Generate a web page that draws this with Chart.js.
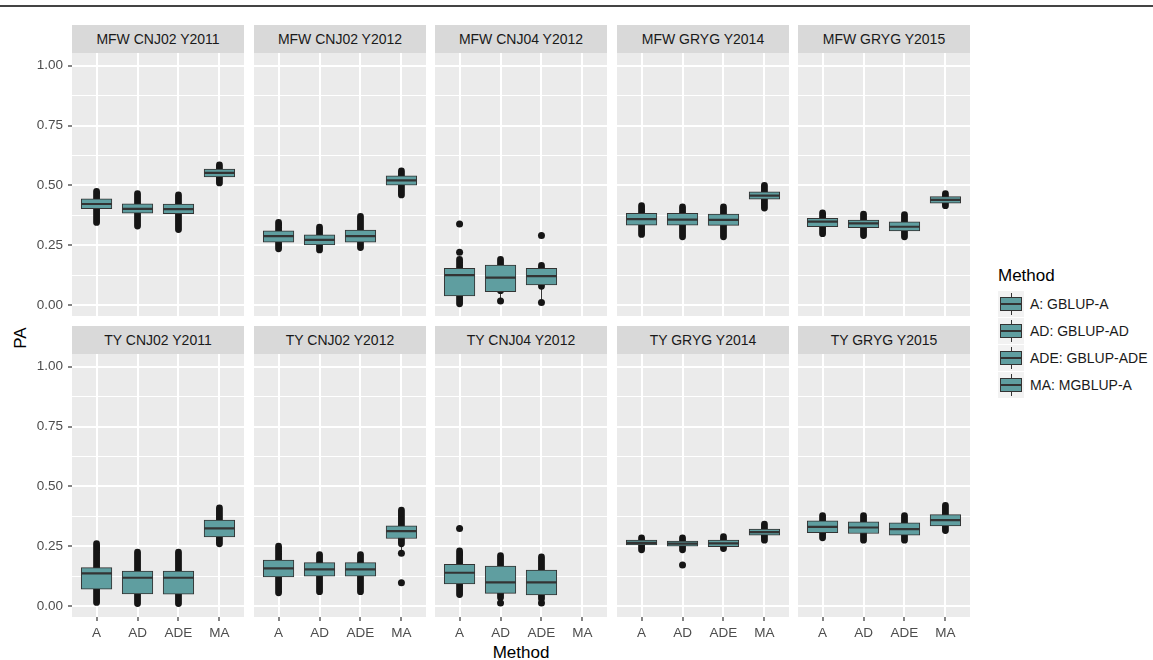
<!DOCTYPE html>
<html>
<head>
<meta charset="utf-8">
<script src="https://cdn.jsdelivr.net/npm/chart.js@4.4.0/dist/chart.umd.min.js"></script>
<style>
  body { margin: 0; width: 1153px; height: 660px; position: relative; overflow: hidden; background: #fff;
         font-family: "Liberation Sans", Arial, sans-serif; }
  .topline { position: absolute; left: 0; top: 5px; width: 1153px; height: 2px; background: #444; }
  .strip { position: absolute; height: 28px; line-height: 28px; background: #D9D9D9; color: #1A1A1A;
           font-size: 14px; text-align: center; white-space: nowrap; }
  canvas { position: absolute; }
  .title { position: absolute; font-size: 17px; color: #000; white-space: nowrap; }
  .legend-title { position: absolute; left: 998px; top: 266px; font-size: 17px; color: #000; }
  .key { position: absolute; left: 998px; width: 26px; height: 26px; background: #F2F2F2; }
  .key .wh { position: absolute; left: 12.5px; top: 2px; width: 1px; height: 22px; background: #333; }
  .key .bx { position: absolute; left: 2px; top: 6px; width: 20px; height: 12px; background: #5F9EA0; border: 1px solid #333; }
  .key .md { position: absolute; left: 2px; top: 12px; width: 22px; height: 2px; background: #333; }
  .key-label { position: absolute; left: 1030px; font-size: 14px; color: #1A1A1A; white-space: nowrap; }
</style>
</head>
<body>
<div class="topline"></div>
<div class="title" id="ytitle" style="left:21px;top:338px;transform:translate(-50%,-50%) rotate(-90deg);">PA</div>
<div class="title" style="left:521px;top:653px;transform:translate(-50%,-50%);">Method</div>
<div class="legend-title">Method</div>
<script>
const methods = ['A', 'AD', 'ADE', 'MA'];
const panelNames = ['MFW CNJ02 Y2011', 'MFW CNJ02 Y2012', 'MFW CNJ04 Y2012', 'MFW GRYG Y2014', 'MFW GRYG Y2015',
                    'TY CNJ02 Y2011', 'TY CNJ02 Y2012', 'TY CNJ04 Y2012', 'TY GRYG Y2014', 'TY GRYG Y2015'];
const legendLabels = ['A: GBLUP-A', 'AD: GBLUP-AD', 'ADE: GBLUP-ADE', 'MA: MGBLUP-A'];
const yTicks = [0, 0.25, 0.5, 0.75, 1];
const yMinor = [0.125, 0.375, 0.625, 0.875];

// lower hinge, median, upper hinge per panel, in method order A, AD, ADE, MA
const q1 = [
  [0.402, 0.384, 0.382, 0.535],
  [0.262, 0.251, 0.262, 0.501],
  [0.038, 0.056, 0.084, null],
  [0.334, 0.334, 0.333, 0.442],
  [0.327, 0.323, 0.310, 0.425],
  [0.070, 0.050, 0.049, 0.289],
  [0.122, 0.125, 0.125, 0.282],
  [0.092, 0.053, 0.046, null],
  [0.255, 0.250, 0.248, 0.296],
  [0.306, 0.303, 0.296, 0.335]
];
const med = [
  [0.422, 0.402, 0.401, 0.552],
  [0.288, 0.272, 0.288, 0.521],
  [0.125, 0.114, 0.121, null],
  [0.359, 0.357, 0.356, 0.457],
  [0.348, 0.341, 0.327, 0.439],
  [0.136, 0.118, 0.118, 0.324],
  [0.157, 0.153, 0.153, 0.313],
  [0.139, 0.099, 0.099, null],
  [0.264, 0.261, 0.262, 0.309],
  [0.331, 0.328, 0.321, 0.359]
];
const q3 = [
  [0.444, 0.423, 0.422, 0.568],
  [0.310, 0.293, 0.313, 0.540],
  [0.153, 0.167, 0.153, null],
  [0.383, 0.383, 0.380, 0.473],
  [0.362, 0.355, 0.348, 0.453],
  [0.160, 0.146, 0.146, 0.359],
  [0.192, 0.181, 0.181, 0.335],
  [0.174, 0.167, 0.150, null],
  [0.275, 0.271, 0.275, 0.321],
  [0.356, 0.352, 0.348, 0.382]
];
// lowest / highest of the packed replicate points around each box
const ptLo = [
  [0.345, 0.330, 0.315, 0.510],
  [0.235, 0.230, 0.240, 0.460],
  [0.005, 0.060, 0.078, null],
  [0.295, 0.285, 0.285, 0.405],
  [0.298, 0.290, 0.285, 0.415],
  [0.015, 0.010, 0.010, 0.260],
  [0.055, 0.060, 0.060, 0.260],
  [0.048, 0.035, 0.030, null],
  [0.235, 0.235, 0.240, 0.275],
  [0.285, 0.275, 0.275, 0.315]
];
const ptHi = [
  [0.475, 0.465, 0.460, 0.585],
  [0.345, 0.325, 0.370, 0.560],
  [0.190, 0.190, 0.165, null],
  [0.415, 0.410, 0.410, 0.500],
  [0.385, 0.380, 0.378, 0.465],
  [0.260, 0.225, 0.225, 0.410],
  [0.250, 0.215, 0.215, 0.400],
  [0.230, 0.210, 0.205, null],
  [0.285, 0.285, 0.290, 0.342],
  [0.378, 0.378, 0.378, 0.420]
];
// [panel, method, value]
const lowWhisker = [[2, 1, 0.017], [2, 2, 0.010], [6, 3, 0.220], [7, 1, 0.013], [7, 2, 0.013]];
const outliers = [
  [2, 0, 0.220], [2, 0, 0.338], [2, 1, 0.017], [2, 2, 0.290], [2, 2, 0.010],
  [6, 3, 0.220], [6, 3, 0.097], [7, 0, 0.324], [7, 1, 0.013], [7, 2, 0.013], [8, 1, 0.171]
];

const FONT = '"Liberation Sans", Arial, sans-serif';
const colLeft = [72, 254, 435, 617, 798];
const rowTop = [53, 354];
const PW = 172, PH = 263, YAX = 72, XAX = 30;

const panelBg = {
  id: 'panelBg',
  beforeDraw(chart) {
    const a = chart.chartArea, ctx = chart.ctx;
    ctx.save();
    ctx.fillStyle = '#EBEBEB';
    ctx.fillRect(a.left, a.top, a.right - a.left, a.bottom - a.top);
    ctx.restore();
  }
};

function segs(p, fromArr, toArr, extra) {
  const out = [];
  methods.forEach((m, i) => {
    if (q1[p][i] == null) return;
    let lo = fromArr[p][i];
    if (extra) extra.filter(w => w[0] === p && w[1] === i).forEach(w => { lo = Math.min(lo, w[2]); });
    out.push({x: i + 1, y: lo}, {x: i + 1, y: toArr[p][i]}, {x: i + 1, y: null});
  });
  return out;
}

function buildPanel(p) {
  const r = Math.floor(p / 5), c = p % 5;
  const firstCol = c === 0, bottomRow = r === 1;

  const strip = document.createElement('div');
  strip.className = 'strip';
  strip.style.left = colLeft[c] + 'px';
  strip.style.top = (rowTop[r] - 28) + 'px';
  strip.style.width = PW + 'px';
  strip.textContent = panelNames[p];
  document.body.appendChild(strip);

  const cv = document.createElement('canvas');
  const w = PW + (firstCol ? YAX : 0), h = PH + (bottomRow ? XAX : 0);
  cv.width = w; cv.height = h;
  cv.style.width = w + 'px'; cv.style.height = h + 'px';
  cv.style.left = (colLeft[c] - (firstCol ? YAX : 0)) + 'px';
  cv.style.top = rowTop[r] + 'px';
  document.body.appendChild(cv);

  const boxes = [], medians = [];
  methods.forEach((m, i) => {
    if (q1[p][i] == null) return;
    boxes.push({x: i + 1, y: [q1[p][i], q3[p][i]]});
    medians.push({x: i + 0.625, y: med[p][i]}, {x: i + 1.375, y: med[p][i]}, {x: i + 1, y: null});
  });
  const pts = outliers.filter(o => o[0] === p).map(o => ({x: o[1] + 1, y: o[2]}));

  new Chart(cv, {
    type: 'bar',
    data: {
      datasets: [
        { type: 'line', data: medians, borderColor: '#333', borderWidth: 2.2, pointRadius: 0, spanGaps: false, order: 0 },
        { type: 'bar', data: boxes, backgroundColor: '#5F9EA0', borderColor: '#333', borderWidth: 1,
          borderSkipped: false, barThickness: 30.6, grouped: false, order: 1 },
        { type: 'scatter', data: pts, pointRadius: 3.5, pointBackgroundColor: '#151515', pointBorderWidth: 0, order: 2 },
        { type: 'line', data: segs(p, ptLo, ptHi), borderColor: '#151515', borderWidth: 6.8, borderCapStyle: 'round',
          pointRadius: 0, spanGaps: false, order: 3 },
        { type: 'line', data: segs(p, ptLo, ptHi, lowWhisker), borderColor: '#333', borderWidth: 1,
          pointRadius: 0, spanGaps: false, order: 4 }
      ]
    },
    options: {
      responsive: false,
      animation: false,
      devicePixelRatio: 1,
      layout: { padding: 0, autoPadding: false },
      plugins: { legend: { display: false }, tooltip: { enabled: false } },
      scales: {
        x: {
          type: 'linear', min: 0.4, max: 4.6, offset: false,
          afterBuildTicks: s => { s.ticks = methods.map((m, i) => ({value: i + 1})); },
          afterFit: s => { s.height = bottomRow ? XAX : 0; s.paddingLeft = 0; s.paddingRight = 0; },
          ticks: { display: bottomRow, autoSkip: false, maxRotation: 0, padding: 4,
                   callback: v => methods[v - 1], color: '#4D4D4D', font: { family: FONT, size: 13.5 } },
          grid: { offset: false, color: '#FFFFFF', lineWidth: 2, drawTicks: bottomRow, tickLength: 4,
                  tickColor: '#333', tickWidth: 1.2 },
          border: { display: false }
        },
        y: {
          min: -0.046, max: 1.053,
          afterBuildTicks: s => { s.ticks = yTicks.concat(yMinor).sort((a, b) => a - b).map(v => ({value: v})); },
          afterFit: s => { s.width = firstCol ? YAX : 0; s.paddingTop = 0; s.paddingBottom = 0; },
          ticks: { display: firstCol, padding: 5, color: '#4D4D4D', font: { family: FONT, size: 13.5 },
                   callback: v => yTicks.includes(v) ? v.toFixed(2) : '' },
          grid: { color: '#FFFFFF', drawTicks: firstCol, tickLength: 4, tickWidth: 1.2,
                  lineWidth: ctx => (ctx.tick && yTicks.includes(ctx.tick.value)) ? 2 : 1,
                  tickColor: ctx => (ctx.tick && yTicks.includes(ctx.tick.value)) ? '#333' : 'rgba(0,0,0,0)' },
          border: { display: false }
        }
      }
    },
    plugins: [panelBg]
  });
}

panelNames.forEach((n, p) => buildPanel(p));

legendLabels.forEach((lab, i) => {
  const top = 291 + i * 27;
  const key = document.createElement('div');
  key.className = 'key';
  key.style.top = top + 'px';
  key.innerHTML = '<div class="wh"></div><div class="bx"></div><div class="md"></div>';
  document.body.appendChild(key);
  const t = document.createElement('div');
  t.className = 'key-label';
  t.style.top = (top + 5) + 'px';
  t.textContent = lab;
  document.body.appendChild(t);
});
</script>
</body>
</html>
